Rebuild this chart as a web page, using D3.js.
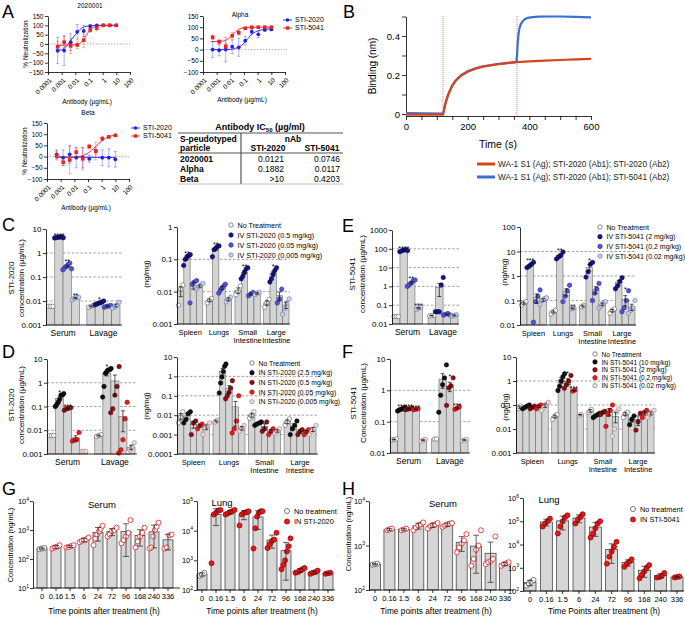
<!DOCTYPE html>
<html><head><meta charset="utf-8">
<script src="https://cdn.jsdelivr.net/npm/d3@7"></script>
<style>body{margin:0;background:#fff}svg{font-family:"Liberation Sans",Arial,Helvetica,sans-serif}</style>
</head><body>
<svg id="c" width="685" height="617"></svg>
<script>
// ================= DATA =================
// Panel A: neutralization
const concA = [0.000508, 0.00152, 0.00457, 0.0137, 0.0412, 0.123, 0.370, 1.11, 3.33, 10];
const neutXTicks = [0.0001, 0.001, 0.01, 0.1, 1, 10, 100];
const neutXLabels = ["0.0001", "0.001", "0.01", "0.1", "1", "10", "100"];
const a1_2020 = [-35, -35, 10, 65, 70, 95, 100, 100, 100, 100];
const a1_2020err = [70, 80, 45, 40, 30, 10, 5, 5, 3, 3];
const a1_5041 = [-15, 10, -10, -5, 20, 75, 85, 100, 100, 100];
const a1_5041err = [30, 30, 40, 20, 40, 10, 15, 5, 3, 3];
const a1_2020fit = [[0.0004,-36],[0.001,-31],[0.0025,-8],[0.005,22],[0.01,50],[0.02,76],[0.04,90],[0.1,97],[1,100],[10,100]];
const a1_5041fit = [[0.0004,-7],[0.003,-6],[0.01,-4],[0.025,8],[0.05,35],[0.1,68],[0.2,88],[0.5,97],[3,100],[10,100]];
const a2_2020 = [0, -3, 0, 13, 10, 40, 80, 68, 88, 90];
const a2_2020err = [35, 25, 55, 30, 40, 20, 10, 15, 5, 5];
const a2_5041 = [55, 35, 15, 62, 75, 95, 100, 100, 100, 100];
const a2_5041err = [10, 10, 15, 15, 10, 5, 3, 3, 3, 3];
const a2_2020fit = [[0.0004,0],[0.01,1],[0.03,8],[0.1,28],[0.2,50],[0.4,70],[1,83],[3,90],[10,92]];
const a2_5041fit = [[0.0004,36],[0.002,37],[0.006,45],[0.012,60],[0.025,80],[0.05,93],[0.1,98],[1,100],[10,100]];
const a3_2020 = [10, -5, 10, -5, -5, -10, 25, -5, -5, -12];
const a3_2020err = [20, 35, 40, 45, 45, 15, 15, 35, 40, 35];
const a3_5041 = [5, -25, -15, 20, -10, 45, 25, 80, 88, 95];
const a3_5041err = [20, 15, 60, 20, 50, 10, 40, 10, 5, 5];
const a3_2020fit = [[0.0004,-2],[10,-4]];
const a3_5041fit = [[0.0004,-3],[0.01,-2],[0.03,2],[0.1,15],[0.3,40],[1,70],[3,88],[10,95]];
const tableHead = ["S-peudotyped", "particle", "nAb", "STI-2020", "STI-5041"];
const tableRows = ["2020001", "Alpha", "Beta"];
const ic50_2020 = ["0.0121", "0.1882", ">10"];
const ic50_5041 = ["0.0746", "0.0117", "0.4203"];

// Panel B: binding sensorgram
const bRedT = [0, 120, 122, 126, 130, 135, 140, 150, 160, 170, 180, 200, 225, 250, 300, 360, 400, 450, 500, 550, 600];
const bRedV = [-0.003, -0.003, 0.01, 0.04, 0.065, 0.09, 0.11, 0.145, 0.168, 0.185, 0.198, 0.217, 0.232, 0.243, 0.255, 0.266, 0.27, 0.274, 0.277, 0.28, 0.283];
const bBlueT = [0, 120, 122, 126, 130, 135, 140, 150, 160, 170, 180, 200, 225, 250, 300, 358, 360, 362, 365, 368, 372, 378, 385, 395, 410, 430, 460, 500, 550, 600];
const bBlueV = [0.004, 0.002, 0.012, 0.042, 0.067, 0.092, 0.112, 0.147, 0.17, 0.187, 0.2, 0.219, 0.234, 0.245, 0.257, 0.267, 0.3, 0.36, 0.41, 0.44, 0.46, 0.475, 0.486, 0.493, 0.497, 0.499, 0.5, 0.5, 0.498, 0.496];
const bYTicks = [0, 0.1, 0.2, 0.3, 0.4, 0.5];
const bYLabels = ["0", "", "0.2", "", "0.4", ""];
const bXTicks = [0, 50, 100, 150, 200, 250, 300, 350, 400, 450, 500, 550, 600];
const bXLabels = ["0", "", "", "", "200", "", "", "", "400", "", "", "", "600"];
const bPhases = [120, 360];
const bLegend = ["WA-1 S1 (Ag); STI-2020 (Ab1); STI-2020 (Ab2)", "WA-1 S1 (Ag); STI-2020 (Ab1); STI-5041 (Ab2)"];

// Panels C-F: tissue distribution
const fluidGroups = ["Serum", "Lavage"];
const tissueGroups = ["Spleen", "Lungs", "Small\nIntestine", "Large\nIntestine"];
const cSeries = ["No Treatment", "IV STI-2020 (0.5 mg/kg)", "IV STI-2020 (0.05 mg/kg)", "IV STI-2020 (0.005 mg/kg)"];
const eSeries = ["No Treatment", "IV STI-5041 (2 mg/kg)", "IV STI-5041 (0.2 mg/kg)", "IV STI-5041 (0.02 mg/kg)"];
const dSeries = ["No Treatment", "IN STI-2020 (2.5 mg/kg)", "IN STI-2020 (0.5 mg/kg)", "IN STI-2020 (0.05 mg/kg)", "IN STI-2020 (0.005 mg/kg)"];
const fSeries = ["No Treatment", "IN STI-5041 (10 mg/kg)", "IN STI-5041 (2 mg/kg)", "IN STI-5041 (0.2 mg/kg)", "IN STI-5041 (0.02 mg/kg)"];

const cLeftTicks = [0.001, 0.01, 0.1, 1, 10];
const cLeftLabels = ["0.001", "0.01", "0.1", "1", "10"];
const cLeftDots = [
  [[0.006,0.006,0.006],[4.2,4.4,4.5,4.6,4.7,4.3],[0.2,0.24,0.28,0.33,0.38,0.22],[0.011,0.013,0.015,0.014]],
  [[0.0055,0.006,0.0065],[0.007,0.0075,0.008,0.0085,0.009,0.01],[0.0055,0.006,0.0062,0.0065],[0.005,0.0058,0.0065,0.009]]
];
const cLeftStars = [[0,1,"****"],[0,2,"**"],[0,3,"**"],[1,1,"*"]];
const cRightTicks = [0.001, 0.01, 0.1, 1];
const cRightLabels = ["0.001", "0.01", "0.1", "1"];
const cRightDots = [
  [[0.0038,0.012,0.016],[0.065,0.1,0.12,0.13,0.14],[0.0045,0.017,0.02,0.022],[0.012,0.014,0.016,0.018]],
  [[0.0045,0.0055,0.0062],[0.12,0.2,0.22,0.25,0.26],[0.009,0.011,0.013,0.015,0.017],[0.0048,0.0058,0.0068]],
  [[0.008,0.01,0.015],[0.025,0.03,0.04,0.05,0.055],[0.0075,0.0085,0.0095],[0.008,0.009,0.0095]],
  [[0.0033,0.0045,0.0058],[0.02,0.025,0.035,0.045,0.055],[0.0045,0.006,0.012],[0.002,0.003,0.0045,0.006]]
];
const cRightStars = [[0,1,"**"],[1,1,"**"],[2,1,"**"],[3,1,"*"]];

const eLeftTicks = [0.01, 0.1, 1, 10, 100, 1000];
const eLeftLabels = ["0.01", "0.1", "1", "10", "100", "1000"];
const eLeftDots = [
  [[0.025,0.025,0.025],[70,78,85,90,80],[1.0,1.2,1.5,2.0,2.2],[0.06,0.07,0.08]],
  [[0.027,0.028,0.029],[0.045,0.045,0.045,1.2,3.0],[0.03,0.033,0.036,0.03],[0.026,0.029,0.031]]
];
const eLeftStars = [[0,1,"****"],[0,2,"**"],[0,3,"***"]];
const eRightTicks = [0.01, 0.1, 1, 10, 100];
const eRightLabels = ["0.01", "0.1", "1", "10", "100"];
const eRightDots = [
  [[0.065,0.08,0.09],[2.2,2.5,3.0,3.6],[0.013,0.09,0.15,0.27],[0.07,0.1,0.12,0.13]],
  [[0.028,0.035,0.04],[5.0,6.0,7.0,9.5],[0.09,0.15,0.25,0.42],[0.045,0.05]],
  [[0.055,0.065],[0.9,1.5,3.0,3.6],[0.1,0.2,0.3,0.5],[0.05,0.06,0.08,0.09]],
  [[0.03,0.04,0.045],[0.3,0.4,0.6,0.85],[0.035,0.05,0.1,0.25],[0.03,0.04,0.05,0.1]]
];
const eRightStars = [[0,1,"***"],[1,1,"**"],[2,1,"*"],[3,2,"*"],[1,3,"**"]];

const dLeftTicks = [0.001, 0.01, 0.1, 1, 10];
const dLeftLabels = ["0.001", "0.01", "0.1", "1", "10"];
const dLeftDots = [
  [[0.006,0.006,0.006],[0.1,0.12,0.15,0.2,0.3,0.3,0.35],[0.07,0.08,0.085,0.09],[0.0035,0.0038,0.004,0.008],[0.0013,0.0013,0.0013]],
  [[0.0055,0.006,0.0065],[0.25,0.7,2.5,3.0,3.5,3.5,4.0],[0.055,0.08,0.3,0.7,4.8],[0.0011,0.0015,0.004,0.03,0.15],[0.0012,0.0015,0.002,0.003]]
];
const dLeftStars = [[0,1,"*"],[0,2,"***"],[1,1,"*"]];
const dRightTicks = [0.0001, 0.001, 0.01, 0.1, 1, 10];
const dRightLabels = ["0.0001", "0.001", "0.01", "0.1", "1", "10"];
const dRightDots = [
  [[0.004,0.008,0.015],[0.004,0.006,0.012,0.015],[0.001,0.004,0.005],[0.002,0.003,0.0035],[0.001,0.002,0.003,0.004]],
  [[0.0045,0.0055],[0.14,0.46,0.93,1.8,3.3,4.4],[0.07,0.1,0.15,0.25,0.6],[0.0012,0.002,0.005,0.1],[0.0015,0.002,0.003]],
  [[0.007,0.009,0.015],[0.003,0.0035,0.004,0.0045],[0.0015,0.002,0.0045],[0.001,0.0015,0.002],[0.0012,0.0015,0.002]],
  [[0.003,0.0045,0.0065],[0.001,0.002,0.003,0.005],[0.001,0.0015,0.0018],[0.001,0.0014,0.0018],[0.001,0.0015,0.002,0.003]]
];
const dRightStars = [];

const fLeftTicks = [0.01, 0.1, 1, 10];
const fLeftLabels = ["0.01", "0.1", "1", "10"];
const fLeftDots = [
  [[0.026,0.027,0.028],[0.22,0.24,0.25,0.27,0.28],[0.24,0.25,0.26,0.27],[0.24,0.25,0.26],[0.024,0.026,0.027]],
  [[0.028,0.028],[0.2,0.7,1.5,2.5,6.5],[0.33,1.2,1.4,2.5],[0.25,0.27,0.3],[0.025,0.026,0.027]]
];
const fLeftStars = [[0,1,"***"],[0,2,"***"],[0,3,"***"],[1,2,"*"],[1,3,"***"]];
const fRightTicks = [0.001, 0.01, 0.1, 1, 10];
const fRightLabels = ["0.001", "0.01", "0.1", "1", "10"];
const fRightDots = [
  [[0.07,0.09],[0.07,0.08,0.09,0.1],[0.07,0.08,0.09],[0.07,0.09,0.1],[0.06,0.08,0.11,0.13]],
  [[0.025,0.035,0.04],[0.4,0.6,1.0,1.5,2.0],[0.5,0.7,1.0,1.7],[0.38,0.42],[0.038,0.04]],
  [[0.05,0.065],[0.03,0.035,0.04,0.045],[0.04,0.05,0.055],[0.013,0.04,0.06,0.1],[0.005,0.01,0.05,0.07]],
  [[0.03,0.045,0.05],[0.015,0.025,0.035],[0.009,0.02,0.045],[0.03,0.05,0.06],[0.03,0.04,0.05,0.06]]
];
const fRightStars = [[1,2,"*"],[1,3,"***"]];

// Panels G-H: time course
const timeLabels = ["0", "0.16", "1.5", "6", "24", "72", "96", "168", "240", "336"];
const gSerumTicks = [1e1, 1e2, 1e3, 1e4];
const gLungTicks = [1e2, 1e3, 1e4, 1e5];
const hSerumTicks = [1e2, 1e3, 1e4];
const hLungTicks = [1e2, 1e3, 1e4, 1e5, 1e6];
const gSerum = [[220,230,240],[230,250,270,300],[250,260,280,300],[380,420,450,480,550],[300,500,700,900,1100,1400],[600,700,900,1000,1200],[350,450,600,800,2200],[250,400,600,800,1200],[230,250,600,1000,1300,1800],[230,250,650,700]];
const gLung = [[300,330,380],[800,35000,40000,48000,50000],[35000,38000,42000,45000,50000],[15000,35000,40000,42000,45000],[2500,12000,30000,40000,45000,45000],[2600,3500,4500,5000,8500],[500,700,1000,2000,3000,5500],[380,400,450,500,550],[350,380,400,450],[350,370,380]];
const hSerum = [[370,380,390],[2200,2300,2400],[2200,2300,2400],[2200,2500,2800,3000,3300],[2400,2700,2900,3000,3200],[2600,2800,3000,3100,3200],[700,900,1100,1300,1800],[350,500,800,1000,2200],[380,420,450,500,1600],[350,380,400,420]];
const hLung = [[170,200,250,300],[60000,80000,100000,130000],[30000,60000,100000,150000,180000],[80000,120000,150000,200000],[20000,30000,50000,80000,100000],[1500,3000,5000,8000,13000],[1100,1500,1800,2300],[350,500,700,1000,1300],[380,400,450,600],[380,400,420]];
const gLegend = ["No treatment", "IN STI-2020"];
const hLegend = ["No treatment", "IN STI-5041"];

// ================= DRAWING =================
const FONT = '"Liberation Sans", Arial, Helvetica, sans-serif';
const svg = d3.select("#c");

function txt(g, x, y, s, size, o = {}) {
  const t = g.append("text").attr("x", x).attr("y", y).attr("font-size", size).attr("font-family", FONT).text(s);
  if (o.anchor) t.attr("text-anchor", o.anchor);
  if (o.weight) t.attr("font-weight", o.weight);
  if (o.rotate !== undefined) t.attr("transform", `rotate(${o.rotate},${x},${y})`);
  t.attr("fill", o.fill || "#000");
  return t;
}
function styleAxis(sel, fs, w = 0.8) {
  sel.attr("font-family", FONT);
  sel.selectAll("path,line").attr("stroke", "#000").attr("stroke-width", w);
  sel.selectAll("text").attr("font-size", fs).attr("font-family", FONT).attr("fill", "#000");
}

// Panel letters
[["A",2,18],["B",343,18],["C",2,231],["E",342,232],["D",2,358],["F",342,358],["G",2,495],["H",342,495]].forEach(d => txt(svg, d[1], d[2], d[0], 18));

// ---------- Panel A ----------
const colBlue = "#2020f0", colRed = "#f02020";
function neutPanel(o) {
  const g = svg.append("g");
  const x = d3.scaleLog().domain([1e-4, 100]).range([o.x0, o.x1]);
  const y = d3.scaleLinear().domain(o.yDom).range([o.yBot, o.yTop]);
  g.append("line").attr("x1", o.x0).attr("x2", o.x1).attr("y1", y(0)).attr("y2", y(0))
    .attr("stroke", "#888").attr("stroke-width", 0.7).attr("stroke-dasharray", "1.5,1.5");
  const ya = g.append("g").attr("transform", `translate(${o.x0},0)`)
    .call(d3.axisLeft(y).tickValues(d3.range(o.yDom[0], o.yDom[1] + 1, 50)).tickSize(3).tickSizeOuter(0).tickPadding(1.5));
  styleAxis(ya, 6.5);
  const xa = g.append("g").attr("transform", `translate(0,${o.yBot})`)
    .call(d3.axisBottom(x).tickValues(neutXTicks).tickFormat((d, i) => neutXLabels[i]).tickSize(3).tickSizeOuter(0));
  styleAxis(xa, 6.5);
  xa.selectAll("text").attr("x", 0).attr("y", 0).attr("dy", "0.35em").attr("text-anchor", "end")
    .attr("transform", "translate(2,7) rotate(-45)");
  txt(g, o.titleX, o.titleY, o.title, 6.5, { anchor: "middle" });
  txt(g, (o.x0 + o.x1) / 2 - 2, o.xlabY, "Antibody (µg/mL)", 6.5, { anchor: "middle" });
  if (o.ylab) txt(g, o.x0 - 20, (o.yTop + o.yBot) / 2, "% Neutralization", 6.5, { anchor: "middle", rotate: -90 });
  o.series.forEach(s => {
    g.append("path").datum(s.fit)
      .attr("d", d3.line().x(d => x(d[0])).y(d => y(d[1])).curve(d3.curveMonotoneX))
      .attr("fill", "none").attr("stroke", s.color).attr("stroke-width", 0.9);
  });
  o.series.forEach(s => {
    concA.forEach((c, i) => {
      const cx = x(c), v = s.vals[i], e = s.errs[i];
      const lo = Math.max(v - e, o.yDom[0]), hi = Math.min(v + e, o.yDom[1]);
      g.append("line").attr("x1", cx).attr("x2", cx).attr("y1", y(lo)).attr("y2", y(hi))
        .attr("stroke", s.color).attr("stroke-opacity", 0.45).attr("stroke-width", 0.8);
      [lo, hi].forEach(b => g.append("line").attr("x1", cx - 1.5).attr("x2", cx + 1.5).attr("y1", y(b)).attr("y2", y(b))
        .attr("stroke", s.color).attr("stroke-opacity", 0.45).attr("stroke-width", 0.8));
      if (s.shape === "circle") g.append("circle").attr("cx", cx).attr("cy", y(v)).attr("r", 1.9).attr("fill", s.color);
      else g.append("rect").attr("x", cx - 1.8).attr("y", y(v) - 1.8).attr("width", 3.6).attr("height", 3.6).attr("fill", s.color);
    });
  });
  if (o.legend) {
    o.series.forEach((s, i) => {
      const ly = o.legend[1] + i * 8;
      g.append("line").attr("x1", o.legend[0]).attr("x2", o.legend[0] + 9).attr("y1", ly).attr("y2", ly).attr("stroke", s.color).attr("stroke-width", 0.9);
      if (s.shape === "circle") g.append("circle").attr("cx", o.legend[0] + 4.5).attr("cy", ly).attr("r", 1.8).attr("fill", s.color);
      else g.append("rect").attr("x", o.legend[0] + 2.8).attr("y", ly - 1.7).attr("width", 3.4).attr("height", 3.4).attr("fill", s.color);
      txt(g, o.legend[0] + 12, ly + 2.4, s.name, 7);
    });
  }
}
const s2020 = (v, e, f) => ({ name: "STI-2020", vals: v, errs: e, fit: f, color: colBlue, shape: "circle" });
const s5041 = (v, e, f) => ({ name: "STI-5041", vals: v, errs: e, fit: f, color: colRed, shape: "square" });
neutPanel({ x0: 48, x1: 130, yTop: 16, yBot: 72, yDom: [-150, 150], title: "2020001", titleX: 90, titleY: 8, xlabY: 104, ylab: true,
  series: [s2020(a1_2020, a1_2020err, a1_2020fit), s5041(a1_5041, a1_5041err, a1_5041fit)] });
neutPanel({ x0: 203, x1: 285, yTop: 16, yBot: 72, yDom: [-100, 150], title: "Alpha", titleX: 240, titleY: 17, xlabY: 102, ylab: false,
  legend: [283, 20], series: [s2020(a2_2020, a2_2020err, a2_2020fit), s5041(a2_5041, a2_5041err, a2_5041fit)] });
neutPanel({ x0: 47, x1: 129, yTop: 123, yBot: 179, yDom: [-100, 150], title: "Beta", titleX: 88, titleY: 115, xlabY: 210, ylab: true,
  legend: [131, 128], series: [s2020(a3_2020, a3_2020err, a3_2020fit), s5041(a3_5041, a3_5041err, a3_5041fit)] });

// Table
(function () {
  const g = svg.append("g");
  const L = 178, R = 343, V = 241;
  const t = txt(g, 260, 130, "Antibody IC", 9, { anchor: "middle", weight: "bold" });
  t.append("tspan").attr("font-size", 6).attr("dy", 2).text("50");
  t.append("tspan").attr("font-size", 9).attr("dy", -2).text(" (µg/ml)");
  g.append("line").attr("x1", L).attr("x2", R).attr("y1", 133).attr("y2", 133).attr("stroke", "#555").attr("stroke-width", 1);
  g.append("line").attr("x1", L).attr("x2", R).attr("y1", 153).attr("y2", 153).attr("stroke", "#555").attr("stroke-width", 1.2);
  g.append("line").attr("x1", V).attr("x2", V).attr("y1", 133).attr("y2", 184).attr("stroke", "#555").attr("stroke-width", 1.2);
  g.append("line").attr("x1", L).attr("x2", R).attr("y1", 184).attr("y2", 184).attr("stroke", "#999").attr("stroke-width", 0.6);
  txt(g, L + 2, 141.5, tableHead[0], 8.5, { weight: "bold" });
  txt(g, L + 2, 151, tableHead[1], 8.5, { weight: "bold" });
  txt(g, 293, 141.5, tableHead[2], 8.5, { weight: "bold", anchor: "middle" });
  txt(g, 268, 151, tableHead[3], 8.5, { weight: "bold", anchor: "middle" });
  txt(g, 322, 151, tableHead[4], 8.5, { weight: "bold", anchor: "middle" });
  tableRows.forEach((r, i) => {
    const yy = 161.5 + i * 10;
    txt(g, L + 2, yy, r, 8.5, { weight: "bold" });
    txt(g, 284, yy, ic50_2020[i], 8.5, { anchor: "end" });
    txt(g, 340, yy, ic50_5041[i], 8.5, { anchor: "end" });
  });
})();

// ---------- Panel B ----------
(function () {
  const g = svg.append("g");
  const x = d3.scaleLinear().domain([0, 600]).range([406, 591]);
  const y = d3.scaleLinear().domain([0, 0.5]).range([114, 16.5]);
  bPhases.forEach(p => g.append("line").attr("x1", x(p)).attr("x2", x(p)).attr("y1", 16).attr("y2", 115)
    .attr("stroke", "#e04040").attr("stroke-width", 0.7).attr("stroke-dasharray", "1,1"));
  const ya = g.append("g").attr("transform", "translate(406,0)")
    .call(d3.axisLeft(y).tickValues(bYTicks).tickFormat((d, i) => bYLabels[i]).tickSize(4).tickSizeOuter(0).tickPadding(2));
  styleAxis(ya, 9.5);
  const xa = g.append("g").attr("transform", "translate(0,116)")
    .call(d3.axisBottom(x).tickValues(bXTicks).tickFormat((d, i) => bXLabels[i]).tickSize(4).tickSizeOuter(0).tickPadding(3));
  styleAxis(xa, 9.5);
  const line = d3.line().x(d => x(d[0])).y(d => y(d[1]));
  g.append("path").datum(d3.zip(bBlueT, bBlueV)).attr("d", line).attr("fill", "none").attr("stroke", "#3a6fd6").attr("stroke-width", 2.2);
  g.append("path").datum(d3.zip(bRedT, bRedV)).attr("d", line).attr("fill", "none").attr("stroke", "#d8441c").attr("stroke-width", 2.2);
  txt(g, 498, 148, "Time (s)", 10.5, { anchor: "middle" });
  txt(g, 376, 66, "Binding (nm)", 10, { anchor: "middle", rotate: -90 });
  ["#d8441c", "#3a6fd6"].forEach((c, i) => {
    const ly = 164 + i * 13;
    g.append("line").attr("x1", 477).attr("x2", 495).attr("y1", ly).attr("y2", ly).attr("stroke", c).attr("stroke-width", 3);
    txt(g, 498, ly + 3, bLegend[i], 8.2, { fill: "#222" });
  });
})();

// ---------- Panels C-F ----------
const palettes = {
  blue: [{ f: "#ffffff", s: "#555" }, { f: "#13138a", s: "#0a0a55" }, { f: "#5555d8", s: "#2a2a90" }, { f: "#c4d0ee", s: "#6b7896" }],
  red: [{ f: "#ffffff", s: "#555" }, { f: "#111111", s: "#000" }, { f: "#8e1010", s: "#500" }, { f: "#e51e1e", s: "#a00" }, { f: "#f6d8d8", s: "#888" }]
};
function barPanel(o) {
  const g = svg.append("g");
  const y = d3.scaleLog().domain(o.dom).range([o.yBot, o.yTop]);
  const gx = d3.scaleBand().domain(d3.range(o.groups.length)).range([o.x0 + 0.5, o.gEnd]).paddingInner(o.pi).paddingOuter(0);
  const ns = o.dots[0].length;
  const sx = d3.scaleBand().domain(d3.range(ns)).range([0, gx.bandwidth()]);
  const bw = sx.bandwidth();
  const pal = palettes[o.pal];
  o.dashed.forEach(v => g.append("line").attr("x1", o.x0).attr("x2", o.x1).attr("y1", y(v)).attr("y2", y(v))
    .attr("stroke", "#777").attr("stroke-width", 0.7).attr("stroke-dasharray", "2.5,1.8"));
  const stats = [];
  o.dots.forEach((grp, gi) => grp.forEach((arr, si) => {
    const m = d3.mean(arr), sd = arr.length > 1 ? d3.deviation(arr) : 0;
    const e = sd / Math.sqrt(arr.length);
    const bx = gx(gi) + sx(si);
    stats.push({ gi, si, m, e, bx, cx: bx + bw / 2, arr });
    g.append("rect").attr("x", bx).attr("y", y(m)).attr("width", bw).attr("height", o.yBot - y(m))
      .attr("fill", "#d4d4d4").attr("stroke", "#6a6a6a").attr("stroke-width", 0.6);
  }));
  stats.forEach(s => {
    const n = s.arr.length, sp = Math.min(2.2, bw * 1.05 / Math.max(n - 1, 1));
    s.arr.forEach((v, i) => {
      g.append("circle").attr("cx", s.cx + (i - (n - 1) / 2) * sp).attr("cy", y(v)).attr("r", 2.2)
        .attr("fill", pal[s.si].f).attr("stroke", pal[s.si].s).attr("stroke-width", 0.6);
    });
  });
  stats.forEach(s => {
    if (s.e <= 0) return;
    const lo = Math.max(s.m - s.e, o.dom[0]), hi = s.m + s.e;
    g.append("line").attr("x1", s.cx).attr("x2", s.cx).attr("y1", y(lo)).attr("y2", y(hi)).attr("stroke", "#111").attr("stroke-width", 0.7);
    [lo, hi].forEach(b => g.append("line").attr("x1", s.cx - 2).attr("x2", s.cx + 2).attr("y1", y(b)).attr("y2", y(b)).attr("stroke", "#111").attr("stroke-width", 0.7));
  });
  o.stars.forEach(st => {
    const s = stats.find(d => d.gi === st[0] && d.si === st[1]);
    const top = Math.max(d3.max(s.arr), s.m + s.e);
    txt(g, s.cx, y(top) + 1, st[2], 7, { anchor: "middle" });
  });
  const ya = g.append("g").attr("transform", `translate(${o.x0},0)`)
    .call(d3.axisLeft(y).tickValues(o.ticks).tickFormat((d, i) => o.labels[i]).tickSize(3).tickSizeOuter(0).tickPadding(1.5));
  styleAxis(ya, 8);
  g.append("line").attr("x1", o.x0).attr("x2", o.x1).attr("y1", o.yBot).attr("y2", o.yBot).attr("stroke", "#000").attr("stroke-width", 0.8);
  o.groups.forEach((name, gi) => {
    const cx = gx(gi) + gx.bandwidth() / 2;
    const lines = name.split("\n");
    lines.forEach((ln, k) => txt(g, cx, o.yBot + 11 + k * 8.3, ln, o.groups.length > 2 ? 7.5 : 8.5, { anchor: "middle" }));
  });
  o.ylab.forEach((ln, k) => txt(g, o.ylabX[k], o.ylabY, ln, 8, { anchor: "middle", rotate: -90 }));
  if (o.legend) {
    o.legend.names.forEach((nm, i) => {
      const ly = o.legend.y0 + i * o.legend.dy;
      g.append("circle").attr("cx", o.legend.x).attr("cy", ly).attr("r", 2.2)
        .attr("fill", pal[i].f).attr("stroke", pal[i].s).attr("stroke-width", 0.7);
      txt(g, o.legend.x + 6.5, ly + 2.6, nm, o.legend.fs);
    });
  }
}

// C
barPanel({ x0: 46, x1: 122, gEnd: 120, pi: 0.18, yTop: 229, yBot: 325, dom: [0.001, 10], ticks: cLeftTicks, labels: cLeftLabels,
  dashed: [1, 0.1, 0.01], groups: fluidGroups, dots: cLeftDots, stars: cLeftStars, pal: "blue",
  ylab: ["STI-2020", "concentration (µg/mL)"], ylabX: [14, 24], ylabY: 278 });
barPanel({ x0: 177, x1: 290, gEnd: 289, pi: 0.12, yTop: 227, yBot: 324, dom: [0.001, 1], ticks: cRightTicks, labels: cRightLabels,
  dashed: [0.1, 0.01], groups: tissueGroups, dots: cRightDots, stars: cRightStars, pal: "blue",
  ylab: ["(ng/mg)"], ylabX: [149], ylabY: 274, legend: { names: cSeries, x: 231, y0: 225, dy: 10, fs: 7.2 } });
// E
barPanel({ x0: 392, x1: 459, gEnd: 458, pi: 0.16, yTop: 230, yBot: 324, dom: [0.01, 1000], ticks: eLeftTicks, labels: eLeftLabels,
  dashed: [100, 10, 1, 0.1], groups: fluidGroups, dots: eLeftDots, stars: eLeftStars, pal: "blue",
  ylab: ["STI-5041", "concentration (µg/mL)"], ylabX: [355, 365], ylabY: 274 });
barPanel({ x0: 520, x1: 636, gEnd: 635, pi: 0.12, yTop: 227, yBot: 325, dom: [0.01, 100], ticks: eRightTicks, labels: eRightLabels,
  dashed: [10, 1, 0.1], groups: tissueGroups, dots: eRightDots, stars: eRightStars, pal: "blue",
  ylab: ["(ng/mg)"], ylabX: [507], ylabY: 272, legend: { names: eSeries, x: 600, y0: 227, dy: 9.7, fs: 7 } });
// D
barPanel({ x0: 47, x1: 137, gEnd: 135, pi: 0.15, yTop: 359, yBot: 454, dom: [0.001, 10], ticks: dLeftTicks, labels: dLeftLabels,
  dashed: [1, 0.1, 0.01], groups: fluidGroups, dots: dLeftDots, stars: dLeftStars, pal: "red",
  ylab: ["STI-2020", "concentration (µg/mL)"], ylabX: [14, 24], ylabY: 405 });
barPanel({ x0: 177, x1: 318, gEnd: 316, pi: 0.1, yTop: 357, yBot: 454, dom: [0.0001, 10], ticks: dRightTicks, labels: dRightLabels,
  dashed: [1, 0.1, 0.01, 0.001], groups: tissueGroups, dots: dRightDots, stars: dRightStars, pal: "red",
  ylab: ["(ng/mg)"], ylabX: [149], ylabY: 406, legend: { names: dSeries, x: 252, y0: 363, dy: 9.7, fs: 6.9 } });
// F
barPanel({ x0: 390, x1: 470, gEnd: 468, pi: 0.12, yTop: 359, yBot: 453, dom: [0.01, 10], ticks: fLeftTicks, labels: fLeftLabels,
  dashed: [1, 0.1], groups: fluidGroups, dots: fLeftDots, stars: fLeftStars, pal: "red",
  ylab: ["STI-5041", "Concentration (µg/mL)"], ylabX: [356, 366], ylabY: 403 });
barPanel({ x0: 516, x1: 655, gEnd: 654, pi: 0.1, yTop: 357, yBot: 453, dom: [0.001, 10], ticks: fRightTicks, labels: fRightLabels,
  dashed: [1, 0.1, 0.01], groups: tissueGroups, dots: fRightDots, stars: fRightStars, pal: "red",
  ylab: ["(ng/mg)"], ylabX: [508], ylabY: 407, legend: { names: fSeries, x: 595, y0: 354, dy: 7.9, fs: 6.6 } });

// ---------- Panels G-H ----------
function timePanel(o) {
  const g = svg.append("g");
  const y = d3.scaleLog().domain(o.dom).range([o.yBot, o.yTop]);
  const x = d3.scalePoint().domain(d3.range(timeLabels.length)).range([o.c0, o.c1]);
  const bw = o.bw;
  const stats = o.dots.map((arr, i) => ({ i, arr, m: d3.mean(arr), e: d3.deviation(arr) || 0, cx: x(i) }));
  stats.forEach(s => g.append("rect").attr("x", s.cx - bw / 2).attr("y", y(s.m)).attr("width", bw).attr("height", o.yBot - y(s.m))
    .attr("fill", "#d6d6d6").attr("stroke", "#333").attr("stroke-width", 0.7));
  stats.forEach(s => {
    const n = s.arr.length, sp = Math.min(2.4, bw * 0.9 / Math.max(n - 1, 1));
    const st = s.i === 0 ? { f: "#fff", s: "#555" } : o.dotStyle;
    s.arr.forEach((v, k) => g.append("circle").attr("cx", s.cx + (k - (n - 1) / 2) * sp).attr("cy", y(v)).attr("r", 2.5)
      .attr("fill", st.f).attr("stroke", st.s).attr("stroke-width", 0.8));
  });
  stats.forEach(s => {
    if (s.e <= 0) return;
    const lo = Math.max(s.m - s.e, o.dom[0]), hi = s.m + s.e;
    g.append("line").attr("x1", s.cx).attr("x2", s.cx).attr("y1", y(lo)).attr("y2", y(hi)).attr("stroke", "#222").attr("stroke-width", 0.7);
    [lo, hi].forEach(b => g.append("line").attr("x1", s.cx - 3).attr("x2", s.cx + 3).attr("y1", y(b)).attr("y2", y(b)).attr("stroke", "#222").attr("stroke-width", 0.7));
  });
  const ya = g.append("g").attr("transform", `translate(${o.x0},0)`)
    .call(d3.axisLeft(y).tickValues(o.ticks).tickFormat("").tickSize(3).tickSizeOuter(0));
  styleAxis(ya, 8);
  o.ticks.forEach(t => {
    const tt = txt(g, o.x0 - 4, y(t) + 3, "10", 7.5, { anchor: "end" });
    tt.append("tspan").attr("font-size", 5).attr("dy", -3.5).text(Math.round(Math.log10(t)));
  });
  g.append("line").attr("x1", o.x0).attr("x2", o.x1).attr("y1", o.yBot).attr("y2", o.yBot).attr("stroke", "#000").attr("stroke-width", 0.8);
  timeLabels.forEach((lb, i) => {
    g.append("line").attr("x1", x(i)).attr("x2", x(i)).attr("y1", o.yBot).attr("y2", o.yBot + 3).attr("stroke", "#000").attr("stroke-width", 0.8);
    txt(g, x(i), o.yBot + 11, lb, 7.5, { anchor: "middle" });
  });
  txt(g, o.titleX, o.titleY, o.title, 9.5, { anchor: "middle" });
  txt(g, o.xlabX, 614, o.xlab, 8.3, { anchor: "middle" });
  if (o.ylabX) txt(g, o.ylabX, o.ylabY, "Concentration (ng/mL)", 7.5, { anchor: "middle", rotate: -90 });
  if (o.legend) {
    o.legend.names.forEach((nm, i) => {
      const ly = o.legend.y0 + i * 10.5;
      const st = i === 0 ? { f: "#fff", s: "#555" } : { f: "#e31a1c", s: "#a00" };
      g.append("circle").attr("cx", o.legend.x).attr("cy", ly).attr("r", 2.5).attr("fill", st.f).attr("stroke", st.s).attr("stroke-width", 0.8);
      txt(g, o.legend.x + 7, ly + 2.7, nm, 7.4);
    });
  }
}
const serumDot = { f: "#fff", s: "#e31a1c" }, lungDot = { f: "#e31a1c", s: "#a00" };
timePanel({ x0: 33, x1: 180, c0: 42, c1: 168, bw: 10, yTop: 501, yBot: 588, dom: [10, 1e4], ticks: gSerumTicks, dots: gSerum,
  dotStyle: serumDot, title: "Serum", titleX: 102, titleY: 508, xlab: "Time points after treatment (h)", xlabX: 104, ylabX: 13, ylabY: 545 });
timePanel({ x0: 197, x1: 335, c0: 202, c1: 328, bw: 10, yTop: 501, yBot: 590, dom: [100, 1e5], ticks: gLungTicks, dots: gLung,
  dotStyle: lungDot, title: "Lung", titleX: 222, titleY: 506, xlab: "Time points after treatment (h)", xlabX: 262,
  legend: { names: gLegend, x: 287, y0: 511 } });
timePanel({ x0: 369, x1: 514, c0: 375, c1: 505, bw: 11, yTop: 501, yBot: 590, dom: [100, 1e4], ticks: hSerumTicks, dots: hSerum,
  dotStyle: serumDot, title: "Serum", titleX: 443, titleY: 507, xlab: "Time points after treatment (h)", xlabX: 436, ylabX: 351, ylabY: 534 });
timePanel({ x0: 523, x1: 684, c0: 530, c1: 677, bw: 12, yTop: 498, yBot: 591, dom: [100, 1e6], ticks: hLungTicks, dots: hLung,
  dotStyle: lungDot, title: "Lung", titleX: 549, titleY: 503, xlab: "Time Points after treatment (h)", xlabX: 604,
  legend: { names: hLegend, x: 633, y0: 509 } });
</script>
</body></html>
